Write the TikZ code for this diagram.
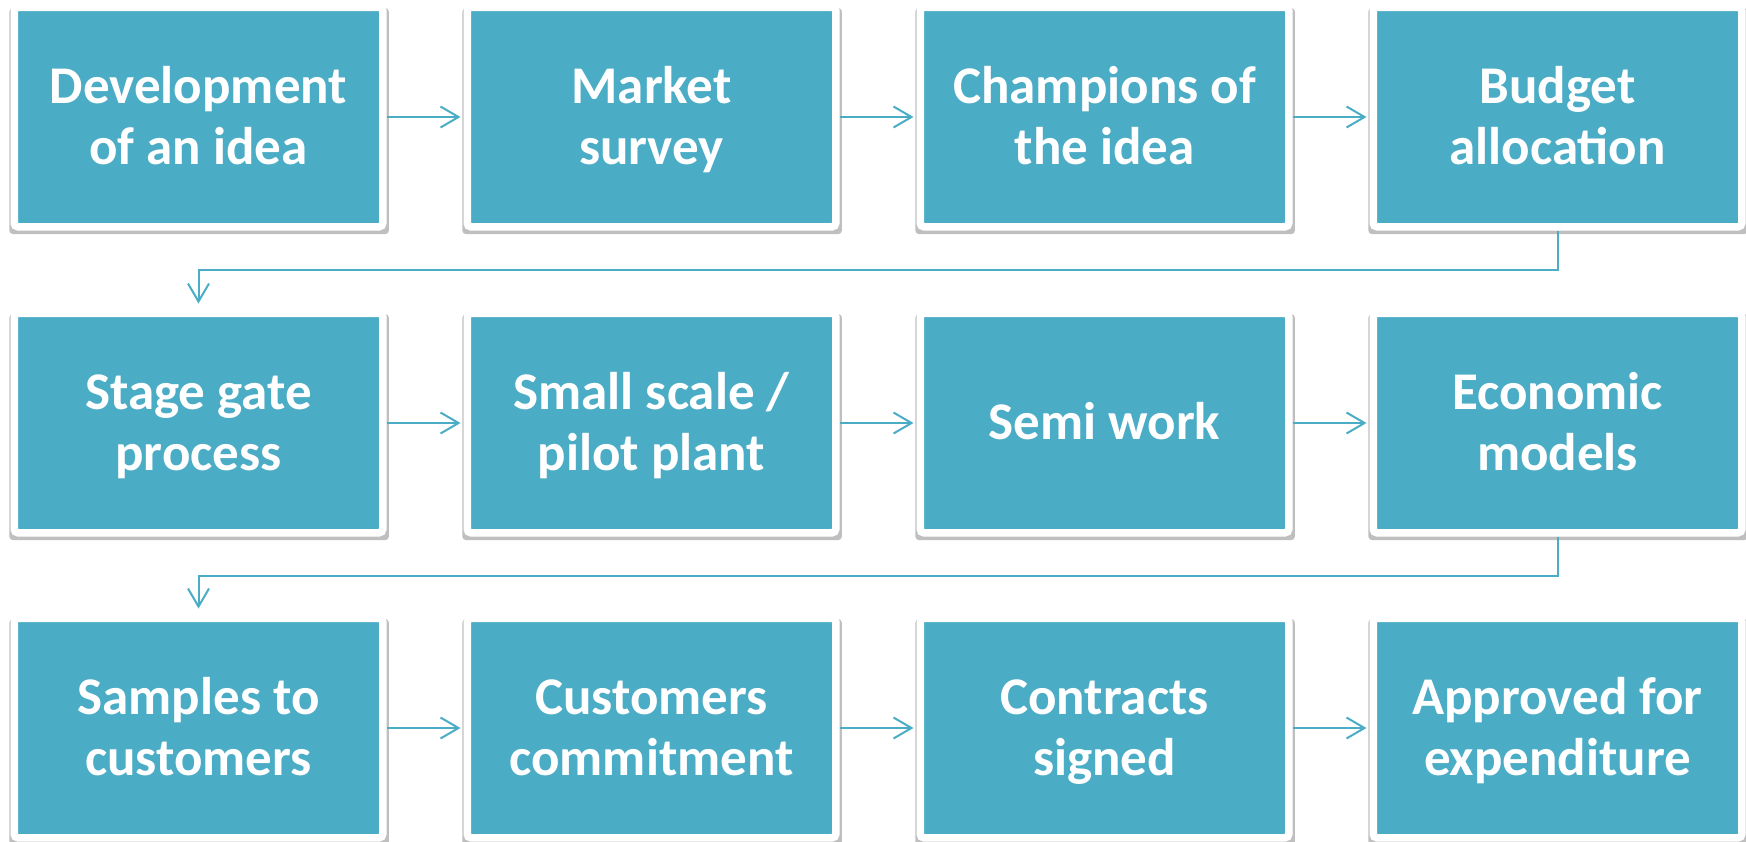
\documentclass[tikz,border=0pt]{standalone}
\usepackage{fontspec}
\setmainfont{Carlito}
\usepackage{xcolor}
\definecolor{Col1}{RGB}{75,172,198}
\usepackage{tikz}
\usetikzlibrary{shadows}
\usetikzlibrary{arrows.meta}
\newcommand{\LineStrut}{\rule[-7pt]{0pt}{30.5pt}}
\newcommand{\Lines}[2]{\LineStrut#1\\\LineStrut#2}
\tikzstyle{Step}=[rectangle,fill=Col1,draw=white,line width=3.75pt,
rounded corners=1.8pt,minimum width=184.25pt,minimum height=109.75pt,
inner sep=0pt,text=white,font=\fontsize{26.5}{30.5}\selectfont\bfseries,
align=center,drop shadow={shadow scale=1.03,shadow xshift=0.3pt,
shadow yshift=-2pt,opacity=.25,fill=black}]
\tikzstyle{Edge}=[draw=Col1,line width=1pt,
-{Straight Barb[length=9pt,width=10.5pt,line width=1pt]},shorten >=1.5pt]

\begin{document}
\begin{tikzpicture}[x=0.5pt,y=0.5pt]
            \useasboundingbox(0,0)rectangle(1746,-841);
            \node[Step](1)at(198.5,-117){\Lines{Development}{of an idea}};
            \node[Step](2)at(651.5,-117){\Lines{Market}{survey}};
            \node[Step](3)at(1104.5,-117){\Lines{Champions of}{the idea}};
            \node[Step](4)at(1557.5,-117){\Lines{Budget}{allocation}};
            \node[Step](5)at(198.5,-423){\Lines{Stage gate}{process}};
            \node[Step](6)at(651.5,-423){\Lines{Small scale /}{pilot plant}};
            \node[Step](7)at(1104.5,-423){\LineStrut Semi work};
            \node[Step](8)at(1557.5,-423){\Lines{Economic}{models}};
            \node[Step](9)at(198.5,-728){\Lines{Samples to}{customers}};
            \node[Step](10)at(651.5,-728){\Lines{Customers}{commitment}};
            \node[Step](11)at(1104.5,-728){\Lines{Contracts}{signed}};
            \node[Step](12)at(1557.5,-728){\Lines{Approved for}{expenditure}};
            \draw[Edge](1)--(2);
            \draw[Edge](2)--(3);
            \draw[Edge](3)--(4);
            \draw[Edge,shorten >=3pt](4.south)--++(0,-39)-|(5.north);
            \draw[Edge](5)--(6);
            \draw[Edge](6)--(7);
            \draw[Edge](7)--(8);
            \draw[Edge,shorten >=3pt](8.south)--++(0,-39)-|(9.north);
            \draw[Edge](9)--(10);
            \draw[Edge](10)--(11);
            \draw[Edge](11)--(12);
        \end{tikzpicture}
\end{document}
